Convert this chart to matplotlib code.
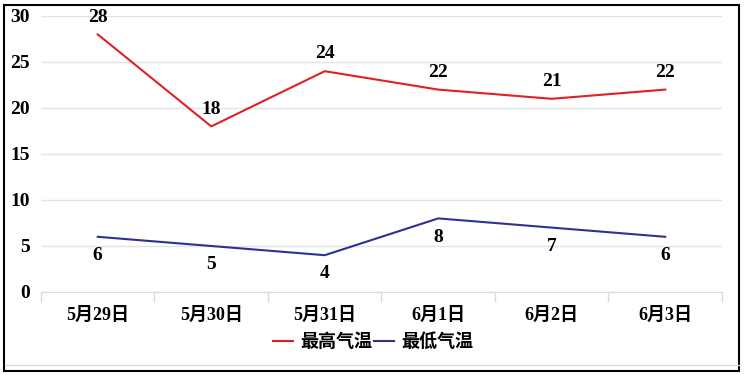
import numpy as np
import matplotlib
matplotlib.use("Agg")
import matplotlib.pyplot as plt
from matplotlib.patches import Rectangle

# --- data ---
dates = ["5月29日", "5月30日", "5月31日", "6月1日", "6月2日", "6月3日"]
high_temp = [28, 18, 24, 22, 21, 22]
low_temp = [6, 5, 4, 8, 7, 6]
y_ticks = [0, 5, 10, 15, 20, 25, 30]

fonts = ["Liberation Serif", "Noto Sans CJK SC", "DejaVu Sans"]
plt.rcParams["font.family"] = fonts

red = "#e02027"
blue = "#2e3192"

fig = plt.figure(figsize=(7.44, 3.75), dpi=100)
ax = fig.add_axes([41 / 744, 1 - 292 / 375, (722 - 41) / 744, (292 - 16) / 375])

x = np.arange(len(dates))
ax.plot(x, high_temp, color=red, lw=1.5, label="最高气温")
ax.plot(x, low_temp, color=blue, lw=1.5, label="最低气温")

for xi, v in zip(x, high_temp):
    ax.annotate(str(v), (xi, v), xytext=(0, 12.5), textcoords="offset points",
                ha="center", va="center", fontsize=14, fontweight="bold")
for xi, v in zip(x, low_temp):
    ax.annotate(str(v), (xi, v), xytext=(0, -13.5), textcoords="offset points",
                ha="center", va="center", fontsize=14, fontweight="bold")

ax.set_xlim(-0.5, len(dates) - 0.5)
ax.set_ylim(0, 30)
ax.set_yticks(y_ticks)
ax.set_yticklabels([str(t) for t in y_ticks], fontsize=14, fontweight="bold")
ax.set_xticks(x)
ax.set_xticklabels(dates, fontsize=13, fontweight="bold")
ax.tick_params(axis="x", length=0, pad=11)
ax.tick_params(axis="y", length=0, pad=8)
ax.set_xticks(np.arange(-0.5, len(dates)), minor=True)
ax.tick_params(axis="x", which="minor", length=7, color="#d9d9d9", width=1)

ax.grid(axis="y", color="#e3e3e3", lw=1)
ax.set_axisbelow(True)
for side in ["top", "right", "left"]:
    ax.spines[side].set_visible(False)
ax.spines["bottom"].set_color("#d9d9d9")

leg = fig.legend(loc="center", bbox_to_anchor=(373 / 744, 1 - 342 / 375), ncol=2,
                 frameon=False, handlelength=1.1, handletextpad=0.4,
                 columnspacing=0.1, prop={"size": 13, "weight": "bold", "family": fonts})

# outer frame
fig.patches.append(Rectangle((4 / 744, 1 - 371 / 375), 735 / 744, 366 / 375,
                             transform=fig.transFigure, fill=False,
                             edgecolor="black", lw=1.5))
fig.add_artist(plt.Line2D([5 / 744, 739 / 744], [1 - 365 / 375] * 2,
                          transform=fig.transFigure, color="#dddddd", lw=1))

fig.savefig("out.png", dpi=100)
